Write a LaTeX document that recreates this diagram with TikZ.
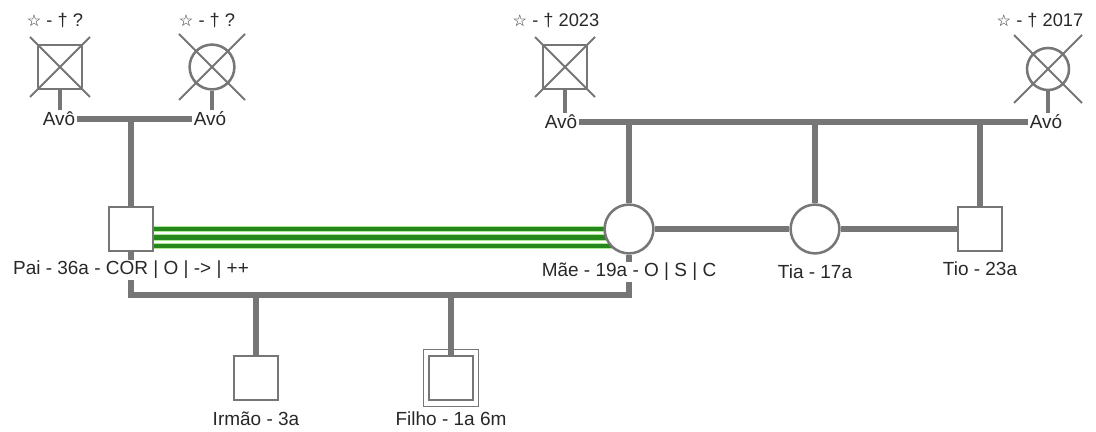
\documentclass[tikz,border=0pt]{standalone}
\usepackage{fontspec}
\setmainfont{Liberation Sans}
\newfontfamily\symfont{DejaVu Sans}
\usetikzlibrary{calc,backgrounds}
\definecolor{kin}{RGB}{118,118,118}
\definecolor{txt}{RGB}{40,40,40}
\definecolor{bondgreen}{RGB}{38,135,28}
\definecolor{bondlight}{RGB}{170,235,145}
\newcommand{\estrela}{{\symfont\fontsize{11.5}{12}\selectfont ☆}}

\begin{document}
\begin{tikzpicture}[x=0.025cm, y=-0.025cm,
  male/.style={draw=kin, line width=1.8pt, fill=white, minimum size=1.1cm, inner sep=0pt},
  female/.style={circle, draw=kin, line width=1.8pt, fill=white, minimum size=1.22cm, inner sep=0pt},
  lbl/.style={font=\fontsize{13.5}{15}\selectfont, text=txt, fill=white, inner sep=1pt},
  dates/.style={font=\fontsize{13}{15}\selectfont, text=txt},
  dead/.style={draw=kin, line width=1.4pt},
  stem/.style={draw=kin, line width=3.4pt},
  rel/.style={draw=kin, line width=4.3pt},
  bond/.style={draw=bondgreen, line width=3.4pt},
  bondglow/.style={draw=bondlight, line width=4.6pt},
]
  \useasboundingbox (0,0) rectangle (1096,432);

  % avos
  \node[male] (gfP) at (60,67) {};
  \node[female, minimum size=1.12cm] (gmP) at (212,67) {};
  \node[male] (gfM) at (565,67) {};
  \node[female, minimum size=1.05cm] (gmM) at (1048,69) {};

  \node[dates] (dtP1) at (55,20) {\estrela{} - † ?};
  \node[dates] (dtP2) at (207,20) {\estrela{} - † ?};
  \node[dates] (dtM1) at (556,20) {\estrela{} - † 2023};
  \node[dates] (dtM2) at (1040,20) {\estrela{} - † 2017};

  \node[lbl] (avoP) at (59,119) {Avô};
  \node[lbl] (avoP2) at (210,119) {Avó};
  \node[lbl] (avoM) at (561,122) {Avô};
  \node[lbl] (avoM2) at (1046,122) {Avó};

  % pais e tios
  \node[male] (pai) at (131,229) {};
  \node[female] (mae) at (629,229) {};
  \node[female] (tia) at (815,229) {};
  \node[male] (tio) at (980,229) {};

  \node[lbl] (paiL) at (131,270) {Pai - 36a - COR | O | -> | ++};
  \node[lbl] (maeL) at (629,272) {Mãe - 19a - O | S | C};
  \node[lbl] (tiaL) at (815,272) {Tia - 17a};
  \node[lbl] (tioL) at (980,269) {Tio - 23a};

  % filhos
  \node[male] (irmao) at (256,378) {};
  \node[male] (filho) at (451,378) {};
  \draw[kin, line width=0.6pt] ($(filho.north west)+(-4,-5)$) rectangle ($(filho.south east)+(4,5)$);

  \node[lbl] (irmaoL) at (256,419) {Irmão - 3a};
  \node[lbl] (filhoL) at (451,419) {Filho - 1a 6m};

  \foreach \n/\r in {gfP/30,gmP/33,gfM/30,gmM/34} {
    \draw[dead] ($(\n)+(-\r,-\r)$) -- ($(\n)+(\r,\r)$);
    \draw[dead] ($(\n)+(-\r,\r)$) -- ($(\n)+(\r,-\r)$);
  }

  \coordinate (kids) at (0,295);

  \begin{pgfonlayer}{background}
    \draw[stem] (gfP.south) -- (gfP.south |- avoP.north);
    \draw[stem] (gmP.south) -- (gmP.south |- avoP2.north);
    \draw[stem] (gfM.south) -- (gfM.south |- avoM.north);
    \draw[stem] (gmM.south) -- (gmM.south |- avoM2.north);

    \draw[rel] (avoP.east) -- (avoP2.west);
    \draw[rel] (avoM.east) -- (avoM2.west);
    \draw[rel] (pai.north) -- (pai |- avoP);
    \draw[rel] (mae.north) -- (mae |- avoM);
    \draw[rel] (tia.north) -- (tia |- avoM);
    \draw[rel] (tio.north) -- (tio |- avoM);

    \draw[rel] (mae.east) -- (tia.west);
    \draw[rel] (tia.east) -- (tio.west);

    \draw[rel] (pai.south) -- (pai |- kids) -- (mae |- kids) -- (mae.south);
    \draw[rel] (irmao.north) -- (irmao |- kids);
    \draw[rel] (filho.north) -- (filho |- kids);

    \foreach \dy in {0,8.5,17} {
      \draw[bondglow] ($(pai.east)+(0,\dy)$) -- ($(mae.center)+(0,\dy)$);
      \draw[bond] ($(pai.east)+(0,\dy)$) -- ($(mae.center)+(0,\dy)$);
    }
  \end{pgfonlayer}
\end{tikzpicture}
\end{document}
